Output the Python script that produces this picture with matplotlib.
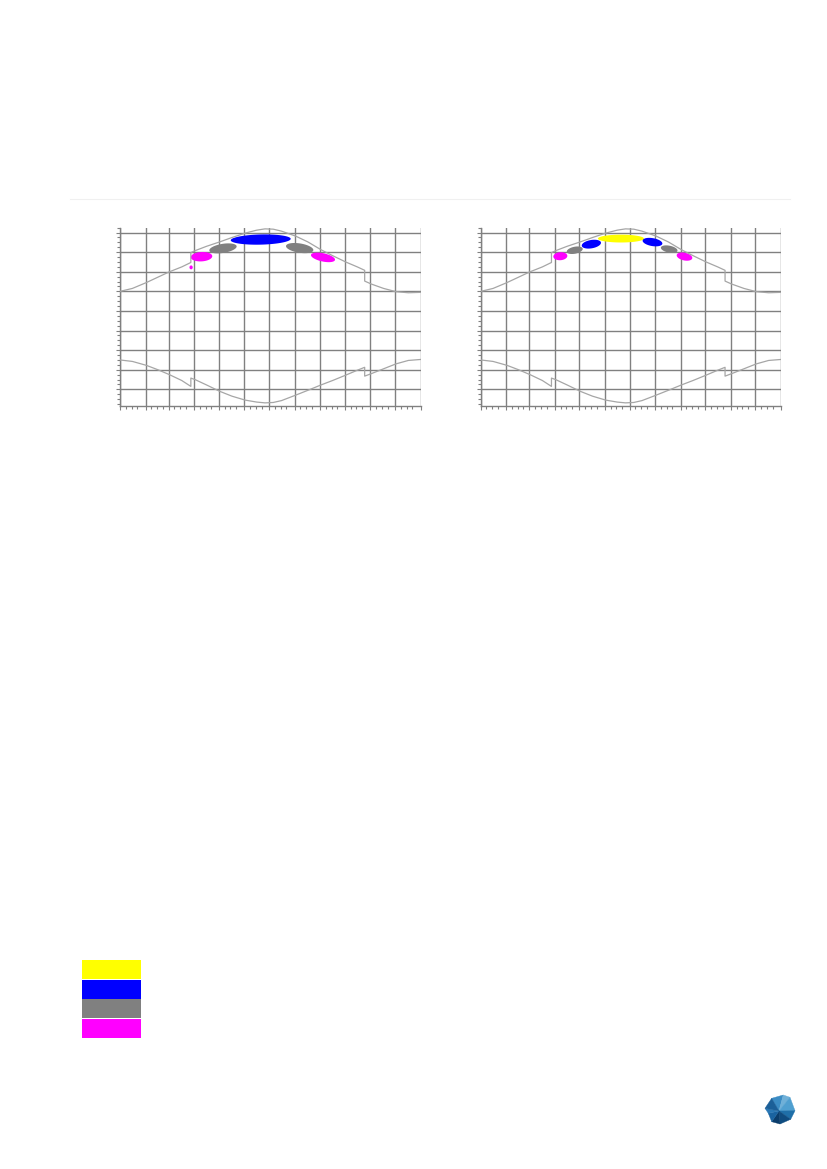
import numpy as np
import matplotlib
matplotlib.use('Agg')
import matplotlib.pyplot as plt
from matplotlib.patches import Polygon, Rectangle

# ── Data: day of year vs. hour of day ────────────────────────────────────
month_starts = [0, 31, 59, 90, 120, 151, 181, 212, 243, 273, 304, 334, 365]

# upper curve (sunset), two points on the DST days give the jumps
sunset_day = [0, 15, 32, 46, 60, 75, 86, 86, 91, 105, 121, 136, 152, 166, 176,
              186, 196, 213, 228, 244, 258, 274, 288, 297, 297, 305, 320, 335, 350, 365]
sunset_hr = [16.0, 16.3, 16.9, 17.45, 18.0, 18.5, 18.95, 19.95, 20.15, 20.6, 21.05,
             21.5, 21.95, 22.25, 22.38, 22.35, 22.15, 21.65, 21.05, 20.25, 19.65,
             19.0, 18.5, 18.15, 17.05, 16.75, 16.3, 15.97, 15.86, 15.9]

# lower curve (sunrise)
sunrise_day = sunset_day
sunrise_hr = [9.0, 8.85, 8.45, 8.0, 7.5, 6.9, 6.3, 7.15, 7.0, 6.45, 5.8, 5.3, 4.9,
              4.7, 4.62, 4.66, 4.85, 5.4, 5.9, 6.45, 6.9, 7.45, 7.95, 8.25, 7.35,
              7.6, 8.1, 8.6, 8.95, 9.05]

# blobs: centre day, centre hour, half width (days), half height (h), slope (h/day)
left_day = [86.3, 98.9, 125.0, 170.8, 218.1, 246.4]
left_hr = [18.45, 19.54, 20.39, 21.29, 20.42, 19.47]
left_w = [2.0, 13.1, 16.6, 36.4, 16.6, 14.6]
left_h = [0.2, 0.48, 0.47, 0.52, 0.48, 0.43]
left_s = [0.0, 0.004, 0.012, 0.002, -0.012, -0.016]
left_c = ['magenta', 'magenta', 'gray', 'blue', 'gray', 'magenta']

right_day = [96.8, 114.3, 134.5, 170.5, 208.8, 229.1, 247.7]
right_hr = [19.59, 20.2, 20.82, 21.39, 21.03, 20.31, 19.55]
right_w = [8.5, 9.7, 11.7, 28.0, 12.0, 10.1, 9.5]
right_h = [0.41, 0.36, 0.43, 0.40, 0.41, 0.36, 0.40]
right_s = [0.004, 0.014, 0.012, 0.0, -0.012, -0.014, -0.014]
right_c = ['magenta', 'gray', 'blue', 'yellow', 'blue', 'gray', 'magenta']

legend_colors = ['yellow', 'blue', 'gray', 'magenta']

colors = {'yellow': '#ffff00', 'blue': '#0000ff', 'gray': '#808080', 'magenta': '#ff00ff'}
GRID = '#808080'


def draw_blob(ax, cx, cy, a, b, s, color):
    t = np.linspace(0, 2 * np.pi, 80)
    xs = cx + a * np.cos(t)
    ys = cy + b * np.sin(t) + s * a * np.cos(t)
    ax.add_patch(Polygon(np.column_stack([xs, ys]), closed=True,
                         facecolor=colors[color], edgecolor='none', zorder=3))


def setup_axes(ax):
    ax.set_xlim(0, 365)
    ax.set_ylim(4.3, 22.5)
    ax.set_xticks(month_starts)
    ax.set_xticks([m + d for m in month_starts[:-1] for d in (7, 14, 21)], minor=True)
    ax.set_yticks(np.arange(6, 23, 2))
    ax.set_yticks(np.arange(4.5, 22.6, 0.5), minor=True)
    ax.set_xticklabels([])
    ax.set_yticklabels([])
    ax.grid(True, which='major', color=GRID, linewidth=1.0)
    ax.set_axisbelow(True)
    ax.tick_params(which='major', length=3, width=0.8, color=GRID)
    ax.tick_params(which='minor', length=2, width=0.8, color=GRID)
    for side in ('top', 'right'):
        ax.spines[side].set_visible(False)
    for side in ('left', 'bottom'):
        ax.spines[side].set_color(GRID)
        ax.spines[side].set_linewidth(1.0)


fig = plt.figure(figsize=(8.27, 11.69), dpi=100)
W, H = 827, 1169

# ── Chart 1 (left) ───────────────────────────────────────────────────────
ax1 = fig.add_axes([120 / W, 1 - 406 / H, 300.7 / W, 178.3 / H])
setup_axes(ax1)
ax1.plot(sunset_day, sunset_hr, color='#a6a6a6', linewidth=0.9, zorder=4)
ax1.plot(sunrise_day, sunrise_hr, color='#a6a6a6', linewidth=0.9, zorder=4)
for i in range(len(left_day)):
    draw_blob(ax1, left_day[i], left_hr[i], left_w[i], left_h[i], left_s[i], left_c[i])

# ── Chart 2 (right) ──────────────────────────────────────────────────────
ax2 = fig.add_axes([480.7 / W, 1 - 406 / H, 300.3 / W, 178.3 / H])
setup_axes(ax2)
ax2.plot(sunset_day, sunset_hr, color='#a6a6a6', linewidth=0.9, zorder=4)
ax2.plot(sunrise_day, sunrise_hr, color='#a6a6a6', linewidth=0.9, zorder=4)
for i in range(len(right_day)):
    draw_blob(ax2, right_day[i], right_hr[i], right_w[i], right_h[i], right_s[i], right_c[i])

# ── Page overlay: faint rule, legend swatches, logo ──────────────────────
ov = fig.add_axes([0, 0, 1, 1])
ov.set_xlim(0, W)
ov.set_ylim(H, 0)
ov.axis('off')

ov.plot([70, 790], [199, 199], color='#f0f0f0', linewidth=0.8)

for i, c in enumerate(legend_colors):
    ov.add_patch(Rectangle((82, 960 + i * 19.7), 59, 19, facecolor=colors[c],
                           edgecolor='none'))

logo_pts = [(771.7, 1098.3), (783.3, 1095), (790, 1097.3), (795, 1110.7),
            (790.7, 1119.3), (780, 1124), (771.7, 1121.7), (768.3, 1113.3),
            (765, 1108.3)]
logo_cols = ['#3b8cc4', '#6fb0d8', '#4f9fd0', '#1f6fa8', '#0f4c80', '#0b3d6b',
             '#1a63a0', '#2a78b5', '#1b5f98']
centre = (779, 1111)
for i in range(len(logo_pts)):
    p1 = logo_pts[i]
    p2 = logo_pts[(i + 1) % len(logo_pts)]
    ov.add_patch(Polygon([centre, p1, p2], closed=True, facecolor=logo_cols[i],
                         edgecolor=logo_cols[i], linewidth=0.3))

fig.savefig('out.png', dpi=100)
